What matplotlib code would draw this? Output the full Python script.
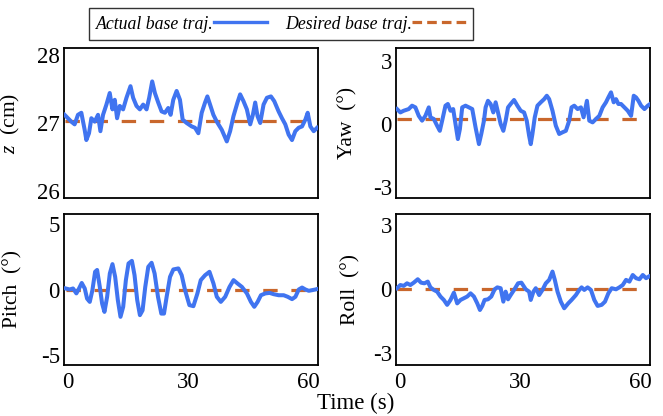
import matplotlib
matplotlib.use("Agg")
import matplotlib.pyplot as plt
from matplotlib.lines import Line2D

plt.rcParams['font.family'] = ['Liberation Serif', 'DejaVu Serif']
plt.rcParams['mathtext.fontset'] = 'custom'
plt.rcParams['mathtext.it'] = 'Liberation Serif:italic'
plt.rcParams['mathtext.rm'] = 'Liberation Serif'

# ---------------- data ----------------
z_t = [-0.75, 0.08, 0.92, 1.75, 2.58, 3.42, 4.25, 4.67, 5.33, 5.92, 6.75, 7.58, 8.17, 8.83,
       9.67, 10.5, 11.17, 11.75, 12.33, 13.0, 13.83, 14.67, 15.67, 16.33, 17.17, 18.0, 18.83,
       19.67, 20.33, 21.08, 21.75, 22.58, 23.42, 24.25, 25.08, 25.67, 26.33, 27.17, 28.0,
       28.67, 29.67, 30.92, 31.75, 32.58, 33.42, 34.25, 34.83, 35.5, 36.33, 37.17, 38.42,
       39.67, 40.5, 41.33, 42.33, 43.0, 43.83, 44.67, 45.5, 46.17, 46.75, 47.33, 48.0, 48.83,
       49.67, 50.67, 51.5, 52.58, 53.42, 54.25, 55.08, 55.92, 56.75, 57.58, 58.42, 59.25,
       59.83, 60.5, 61.33, 62.17]
z_val = [27.12, 27.07, 27.02, 26.98, 27.12, 27.15, 26.9, 26.75, 26.85, 27.07, 27.02, 27.12,
         26.88, 27.12, 27.27, 27.44, 27.2, 27.34, 27.07, 27.25, 27.2, 27.37, 27.54, 27.37,
         27.25, 27.2, 27.27, 27.2, 27.37, 27.61, 27.44, 27.3, 27.17, 27.15, 27.22, 27.12,
         27.34, 27.47, 27.34, 27.05, 27.0, 26.95, 26.93, 26.85, 27.15, 27.3, 27.39, 27.27,
         27.12, 27.02, 26.9, 26.73, 26.88, 27.1, 27.3, 27.42, 27.32, 27.2, 26.98, 27.12,
         27.3, 27.1, 27.0, 27.27, 27.37, 27.39, 27.32, 27.17, 27.07, 26.98, 26.83, 26.75,
         26.88, 26.93, 26.95, 27.05, 27.15, 26.95, 26.88, 26.93]
z_desired = 27.03

yaw_t = [-0.65, 0.18, 1.02, 2.27, 3.1, 3.93, 4.77, 5.6, 6.43, 7.27, 7.68, 8.52, 9.35, 10.02,
         10.6, 11.43, 12.02, 12.68, 13.35, 13.93, 14.52, 15.02, 15.6, 16.43, 17.27, 18.1,
         18.93, 19.77, 20.35, 21.02, 21.43, 22.02, 22.68, 23.35, 23.93, 24.52, 25.18, 25.85,
         26.43, 27.02, 27.68, 28.52, 29.35, 30.18, 31.02, 31.68, 32.27, 32.68, 33.1, 33.68,
         34.35, 35.18, 36.02, 36.68, 37.27, 38.1, 38.93, 39.77, 40.6, 41.43, 42.27, 42.85,
         43.52, 44.35, 45.18, 45.85, 46.68, 47.27, 48.1, 48.93, 49.77, 50.6, 51.43, 52.02,
         52.68, 53.35, 53.93, 54.52, 55.18, 56.02, 56.85, 57.68, 58.35, 58.93, 59.52, 60.18,
         61.02, 61.85, 62.43]
yaw_val = [0.71, 0.55, 0.63, 0.71, 0.87, 0.79, 0.39, 0.16, 0.39, 0.79, 0.32, 0.24, -0.08,
           -0.32, 0.16, 0.87, 0.95, 0.63, 0.71, 0.0, -0.71, -0.24, 0.79, 0.87, 0.79, 0.71,
           -0.16, -0.95, -0.47, 0.16, 0.79, 1.1, 0.95, 0.55, 1.03, 0.55, 0.0, -0.32, 0.16,
           0.79, 0.95, 1.14, 0.87, 0.63, 0.55, 0.16, -0.55, -0.95, -0.47, 0.32, 0.87, 1.03,
           1.18, 1.34, 1.18, 0.63, -0.08, -0.47, -0.39, -0.32, 0.16, 0.79, 0.87, 0.71, 0.79,
           0.32, 1.1, 0.16, 0.08, 0.24, 0.39, 0.79, 1.03, 1.26, 1.5, 1.03, 1.18, 0.95, 0.95,
           0.79, 0.63, 0.39, 1.34, 1.26, 1.1, 0.87, 0.71, 0.87, 0.95]
yaw_desired = 0.25

pitch_t = [-0.48, 0.52, 1.35, 2.18, 2.85, 3.52, 4.27, 4.85, 5.52, 6.18, 6.85, 7.35, 8.02, 8.6,
           9.18, 9.85, 10.52, 11.18, 11.85, 12.52, 13.18, 13.85, 14.52, 15.18, 16.02, 16.68,
           17.35, 18.02, 18.68, 19.35, 20.1, 20.93, 21.68, 22.52, 23.35, 24.02, 24.68, 25.52,
           26.35, 27.6, 28.43, 29.27, 30.35, 31.35, 32.35, 33.18, 34.27, 35.35, 36.35, 37.18,
           38.18, 39.27, 40.35, 41.35, 42.35, 43.43, 44.68, 45.68, 46.52, 47.35, 48.18, 49.27,
           50.35, 51.35, 52.6, 53.85, 54.85, 55.93, 56.77, 57.6, 58.43, 59.27, 60.1, 60.93,
           61.77, 62.35]
pitch_val = [0.08, 0.0, 0.08, -0.3, 0.08, 0.5, 0.08, -0.7, -0.95, -0.05, 1.36, 1.5, 0.2,
             -1.08, -1.72, -0.56, 1.23, 1.95, 0.97, -0.82, -2.1, -1.33, 0.72, 2.0, 2.2, 1.1,
             -0.82, -1.97, -1.6, 0.2, 1.74, 2.05, 1.23, -0.56, -1.85, -1.85, -0.56, 0.97, 1.54,
             1.62, 1.1, -0.05, -1.2, -1.28, -0.3, 0.72, 1.1, 1.36, 0.46, -0.56, -0.95, -0.56,
             0.2, 0.72, 0.46, 0.2, -0.3, -0.95, -1.33, -0.95, -0.44, -0.3, -0.26, -0.36, -0.44,
             -0.44, -0.56, -0.74, -0.56, 0.0, 0.15, 0.0, -0.1, -0.05, 0.0, 0.05]
pitch_desired = 0.0

roll_t = [-0.65, 0.18, 1.02, 1.85, 2.68, 3.52, 4.52, 5.35, 6.18, 7.02, 7.68, 8.52, 9.35,
          10.18, 11.02, 11.85, 12.68, 13.52, 14.35, 15.18, 16.02, 16.85, 17.68, 18.52, 19.35,
          20.02, 20.6, 21.18, 22.02, 22.85, 23.68, 24.35, 25.18, 25.85, 26.43, 27.02, 27.68,
          28.52, 29.52, 30.35, 31.43, 32.27, 32.68, 33.35, 33.93, 34.77, 35.6, 36.43, 37.27,
          38.1, 38.68, 39.35, 40.18, 41.02, 42.02, 42.85, 43.93, 44.77, 45.35, 46.02, 46.85,
          47.68, 48.52, 49.35, 50.35, 51.18, 52.02, 52.85, 53.93, 54.77, 55.6, 56.43, 57.27,
          58.1, 58.93, 59.77, 60.6, 61.43, 62.27, 62.68]
roll_val = [0.05, 0.2, 0.16, 0.28, 0.2, 0.31, 0.47, 0.31, 0.28, 0.36, 0.09, -0.03, -0.11,
            -0.34, -0.5, -0.73, -0.5, -0.16, -0.66, -0.5, -0.42, -0.34, -0.19, -0.34, -0.66,
            -0.97, -0.78, -0.5, -0.47, -0.34, 0.0, 0.09, 0.05, -0.58, -0.11, -0.47, -0.27,
            -0.03, 0.28, 0.31, 0.0, -0.11, -0.5, -0.11, 0.05, -0.27, -0.03, 0.28, 0.44, 0.83,
            0.44, -0.11, -0.58, -0.89, -0.66, -0.5, -0.27, -0.03, 0.09, -0.03, 0.09, -0.03,
            -0.5, -0.78, -0.73, -0.58, -0.19, 0.05, 0.0, 0.09, 0.2, 0.44, 0.36, 0.67, 0.52,
            0.47, 0.67, 0.52, 0.62, 0.6]
roll_desired = 0.0

x_ticks = [0, 30, 60]
x_limits = (-0.9, 62.4)

BLUE = '#4074f0'
ORANGE = '#c9672c'

fig = plt.figure(figsize=(6.63, 4.16), dpi=100)
W, H = 663, 416

def make_ax(left, top, right, bottom):
    return fig.add_axes([left / W, 1 - bottom / H, (right - left) / W, (bottom - top) / H])

ax_z = make_ax(64, 48, 318, 198)
ax_yaw = make_ax(396, 48, 650, 198)
ax_pitch = make_ax(64, 214, 318, 365)
ax_roll = make_ax(396, 214, 650, 365)

panels = [
    (ax_z, z_t, z_val, z_desired, (25.9, 28.1), [26, 27, 28], ['26', '27', '28'], r'$z$  (cm)', False),
    (ax_yaw, yaw_t, yaw_val, yaw_desired, (-3.5, 3.6), [-3, 0, 3], ['-3', '0', '3'], 'Yaw  (°)', False),
    (ax_pitch, pitch_t, pitch_val, pitch_desired, (-5.8, 5.8), [-5, 0, 5], ['-5', '0', '5'], 'Pitch  (°)', True),
    (ax_roll, roll_t, roll_val, roll_desired, (-3.55, 3.53), [-3, 0, 3], ['-3', '0', '3'], 'Roll  (°)', True),
]

for ax, t, v, des, ylim, yt, ytl, ylab, show_x in panels:
    ax.plot(t, [des] * len(t), color=ORANGE, lw=2.3, dashes=(4.5, 4.3), zorder=2)
    ax.plot(t, v, color=BLUE, lw=2.9, zorder=3, solid_joinstyle='round')
    ax.set_xlim(*x_limits)
    ax.set_ylim(*ylim)
    ax.set_yticks(yt)
    ax.set_yticklabels(ytl)
    ax.set_xticks(x_ticks)
    if not show_x:
        ax.set_xticklabels([])
    ax.tick_params(length=0, labelsize=16.5, pad=3)
    ax.tick_params(axis='x', pad=5)
    for s in ax.spines.values():
        s.set_linewidth(1.3)
        s.set_color('black')
    ax.set_ylabel(ylab, fontsize=15.5)

ax_z.yaxis.set_label_coords(-0.165, 0.5)
ax_pitch.yaxis.set_label_coords(-0.165, 0.5)
ax_yaw.yaxis.set_label_coords(-0.15, 0.5)
ax_roll.yaxis.set_label_coords(-0.14, 0.5)

fig.text(356 / W, 1 - 403 / H, 'Time (s)', fontsize=16.5, ha='center', va='center')

handles = [Line2D([], [], color=BLUE, lw=2.4),
           Line2D([], [], color=ORANGE, lw=2.3, dashes=(3.0, 1.6))]
leg = fig.legend(handles, ['Actual base traj.', 'Desired base traj.'],
                 loc='center', bbox_to_anchor=(281 / W, 1 - 24 / H), ncol=2,
                 markerfirst=False, frameon=True, fancybox=False, framealpha=1,
                 edgecolor='#333333', prop={'family': 'Liberation Serif', 'style': 'italic', 'size': 12.8},
                 handlelength=3.0, handletextpad=0.0, columnspacing=1.0,
                 borderpad=0.42, borderaxespad=0)
leg.get_frame().set_linewidth(1.0)

fig.savefig('out.png', dpi=100)
